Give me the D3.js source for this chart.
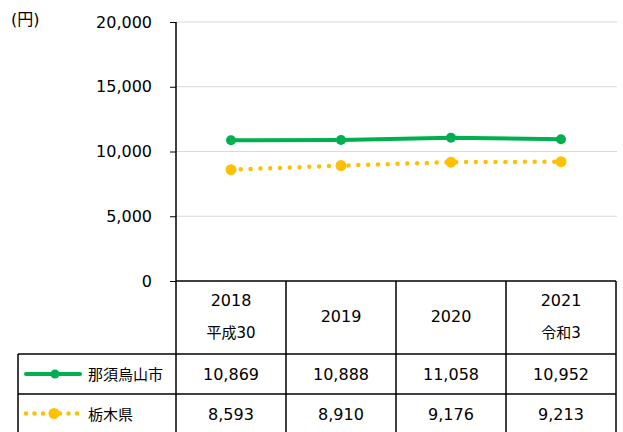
<!DOCTYPE html>
<html><head><meta charset="utf-8">
<script src="https://cdn.jsdelivr.net/npm/d3@7"></script>
<style>
body{margin:0;background:#fff;}
text{font-family:"DejaVu Sans","Noto Sans CJK JP",sans-serif;fill:#000;}
</style></head>
<body><svg id="c" width="623" height="432"></svg>
<script>
const years = ["2018", "2019", "2020", "2021"];
const eraLabels = ["平成30", "", "", "令和3"];
const seriesNames = ["那須烏山市", "栃木県"];
const cityValues = [10869, 10888, 11058, 10952];
const prefValues = [8593, 8910, 9176, 9213];
const yTicks = [0, 5000, 10000, 15000, 20000];
const unitLabel = "(円)";

const svg = d3.select("#c");
const plotLeft = 176, plotRight = 616, plotTop = 22, plotBottom = 281;
const x = d3.scaleBand().domain(years).range([plotLeft, plotRight]);
const y = d3.scaleLinear().domain([0, 20000]).range([plotBottom, plotTop]);
const fmt = d3.format(",");
const FS = 16;

// gridlines
svg.append("g").selectAll("line").data(yTicks.filter(d => d > 0)).join("line")
  .attr("x1", plotLeft).attr("x2", plotRight + 1)
  .attr("y1", d => y(d)).attr("y2", d => y(d))
  .attr("stroke", "#d9d9d9").attr("stroke-width", 1);

// y axis
const yAxis = d3.axisLeft(y).tickValues(yTicks).tickFormat(fmt).tickSize(6).tickPadding(18);
const ga = svg.append("g").attr("transform", `translate(${plotLeft},0)`).call(yAxis);
ga.select(".domain").remove();
ga.selectAll(".tick line").attr("stroke", "#000");
ga.selectAll(".tick text").attr("font-size", FS).attr("font-family", "DejaVu Sans").attr("fill", "#000");
svg.append("line").attr("x1", plotLeft).attr("x2", plotLeft).attr("y1", plotTop).attr("y2", 432)
  .attr("stroke", "#000").attr("stroke-width", 1.5);

svg.append("text").attr("x", 11).attr("y", 25).attr("font-size", 16).text(unitLabel);

// table grid
const rowTops = [281, 354, 394, 433];
const tableLeft = 18;
svg.append("line").attr("x1", plotLeft).attr("x2", plotRight).attr("y1", plotBottom).attr("y2", plotBottom).attr("stroke", "#000").attr("stroke-width", 1.5);
svg.append("line").attr("x1", tableLeft).attr("x2", plotRight).attr("y1", rowTops[1]).attr("y2", rowTops[1]).attr("stroke", "#000").attr("stroke-width", 1.5);
svg.append("line").attr("x1", tableLeft).attr("x2", plotRight).attr("y1", rowTops[2]).attr("y2", rowTops[2]).attr("stroke", "#000").attr("stroke-width", 1.5);
svg.append("line").attr("x1", tableLeft).attr("x2", tableLeft).attr("y1", rowTops[1]).attr("y2", 432).attr("stroke", "#000").attr("stroke-width", 1.5);
svg.append("g").selectAll("line").data(years).join("line")
  .attr("x1", d => x(d) + x.bandwidth()).attr("x2", d => x(d) + x.bandwidth())
  .attr("y1", plotBottom).attr("y2", 432).attr("stroke", "#000").attr("stroke-width", 1.5);

// header cells
years.forEach((yr, i) => {
  const cx = x(yr) + x.bandwidth() / 2;
  if (eraLabels[i]) {
    svg.append("text").attr("x", cx).attr("y", 306).attr("text-anchor", "middle").attr("font-size", FS).text(yr);
    svg.append("text").attr("x", cx).attr("y", 338).attr("text-anchor", "middle").attr("font-size", 15).text(eraLabels[i]);
  } else {
    svg.append("text").attr("x", cx).attr("y", 322).attr("text-anchor", "middle").attr("font-size", FS).text(yr);
  }
});

const green = "#00b050", gold = "#ffc000";
// value rows
[cityValues, prefValues].forEach((vals, r) => {
  const cy = (rowTops[r + 1] + rowTops[r + 2]) / 2 + 6;
  svg.append("g").selectAll("text").data(vals).join("text")
    .attr("x", (d, i) => x(years[i]) + x.bandwidth() / 2).attr("y", cy)
    .attr("text-anchor", "middle").attr("font-size", FS).text(d => fmt(d));
  svg.append("text").attr("x", 88).attr("y", cy).attr("font-size", 15).text(seriesNames[r]);
});

// legend keys
const ly1 = (rowTops[1] + rowTops[2]) / 2, ly2 = (rowTops[2] + rowTops[3]) / 2;
svg.append("line").attr("x1", 26).attr("x2", 80).attr("y1", ly1).attr("y2", ly1)
  .attr("stroke", green).attr("stroke-width", 4).attr("stroke-linecap", "round");
svg.append("circle").attr("cx", 55).attr("cy", ly1).attr("r", 4.5).attr("fill", green);
svg.append("line").attr("x1", 26).attr("x2", 78).attr("y1", ly2).attr("y2", ly2)
  .attr("stroke", gold).attr("stroke-width", 4.5).attr("stroke-linecap", "round").attr("stroke-dasharray", "0 8.5");
svg.append("circle").attr("cx", 54).attr("cy", ly2).attr("r", 5.5).attr("fill", gold);

// lines
const line = d3.line().x((d, i) => x(years[i]) + x.bandwidth() / 2).y(d => y(d));
svg.append("path").datum(prefValues).attr("d", line).attr("fill", "none")
  .attr("stroke", gold).attr("stroke-width", 4.5).attr("stroke-linecap", "round").attr("stroke-dasharray", "0 9.8");
svg.append("g").selectAll("circle").data(prefValues).join("circle")
  .attr("cx", (d, i) => x(years[i]) + x.bandwidth() / 2).attr("cy", d => y(d)).attr("r", 5.5).attr("fill", gold);
svg.append("path").datum(cityValues).attr("d", line).attr("fill", "none")
  .attr("stroke", green).attr("stroke-width", 4).attr("stroke-linejoin", "round");
svg.append("g").selectAll("circle").data(cityValues).join("circle")
  .attr("cx", (d, i) => x(years[i]) + x.bandwidth() / 2).attr("cy", d => y(d)).attr("r", 5).attr("fill", green);
</script></body></html>
